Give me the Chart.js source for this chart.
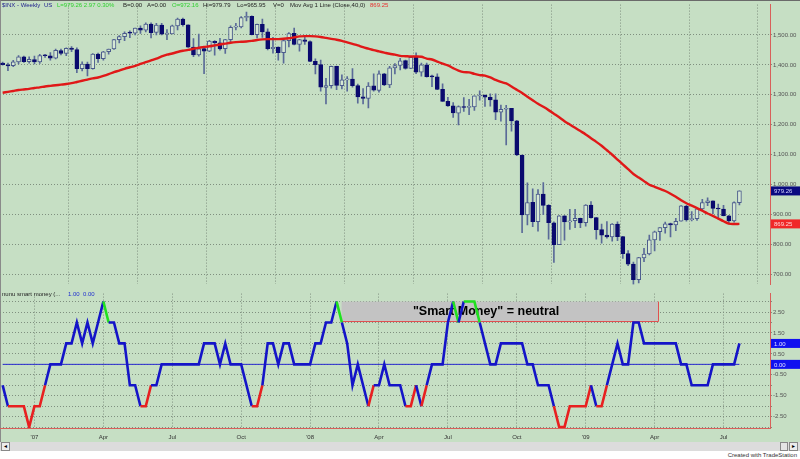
<!DOCTYPE html>
<html><head><meta charset="utf-8">
<script src="https://cdn.jsdelivr.net/npm/chart.js@4"></script>
<style>
body{margin:0;background:#fff;}
#wrap{position:relative;width:800px;height:459px;background:#fff;overflow:hidden;font-family:"Liberation Sans",Arial,sans-serif;}
#panel{position:absolute;left:0;top:0;width:800px;height:442px;background:#c6dfc4;border-top:1px solid #6a6a6a;border-left:1px solid #8a8a8a;box-sizing:border-box;}
canvas{position:absolute;left:0;}
.t{position:absolute;font-size:6px;white-space:nowrap;line-height:7px;}
#scroll{position:absolute;left:0;top:442px;width:800px;height:9px;background:#dcdcdc;}
.btn{position:absolute;top:0;width:9px;height:9px;background:#ececec;border:1px solid #888;box-sizing:border-box;font-size:6px;line-height:7px;text-align:center;color:#000;}
</style></head>
<body>
<div id="wrap">
  <div id="panel"></div>
  <canvas id="topChart" width="800" height="289" style="top:0"></canvas>
  <canvas id="botChart" width="800" height="153" style="top:289px"></canvas>
  <span class="t" style="left:2px;top:2px;color:#1c1c8c">$INX - Weekly</span>
  <span class="t" style="left:44px;top:2px;color:#1c1c8c">US</span>
  <span class="t" style="left:57px;top:2px;color:#2ed02e">L=979.26 2.97 0.30%</span>
  <span class="t" style="left:123px;top:2px;color:#222">B=0.00</span>
  <span class="t" style="left:147px;top:2px;color:#222">A=0.00</span>
  <span class="t" style="left:172px;top:2px;color:#2ed02e">O=972.16</span>
  <span class="t" style="left:203px;top:2px;color:#222">Hi=979.79</span>
  <span class="t" style="left:237px;top:2px;color:#222">Lo=965.95</span>
  <span class="t" style="left:273px;top:2px;color:#222">V=0</span>
  <span class="t" style="left:290px;top:2px;color:#222">Mov Avg 1 Line (Close,40,0)</span>
  <span class="t" style="left:370px;top:2px;color:#e83030">869.25</span>
  <span class="t" style="left:2px;top:291px;color:#222">nunu smart money (...</span>
  <span class="t" style="left:68px;top:291px;color:#2030d0">1.00</span>
  <span class="t" style="left:83px;top:291px;color:#2030d0">0.00</span>
  <div id="scroll">
    <div class="btn" style="left:1px">&#9666;</div>
    <div class="btn" style="left:780px;width:8px;background:#e4e4e4"></div>
    <div class="btn" style="left:789px">&#9656;</div>
  </div>
  <span class="t" style="right:3px;top:452px;color:#333">Created with TradeStation</span>
</div>
<script>
// ---- data (weekly bars, index 0 = week ending 24 Nov 2006) ----
const open = [1406,1400,1397,1410,1427,1411,1418,1410,1431,1430,
1422,1448,1438,1456,1451,1387,1403,1387,1436,1421,
1444,1453,1484,1494,1506,1506,1523,1516,1536,1508,
1533,1503,1503,1530,1553,1534,1459,1433,1454,1446,
1479,1474,1454,1484,1526,1527,1558,1562,1501,1535,
1510,1454,1459,1441,1481,1505,1468,1484,1478,1412,
1401,1325,1331,1395,1331,1350,1353,1331,1293,1288,
1330,1315,1370,1333,1390,1398,1414,1388,1425,1376,
1400,1361,1360,1318,1278,1263,1239,1261,1258,1260,
1296,1298,1292,1283,1242,1252,1255,1213,1099,899,
941,877,969,931,873,800,896,876,880,888,
873,932,890,850,832,826,869,827,770,735,
683,756,769,816,843,857,870,866,878,929,
883,887,919,940,946,921,919,896,879,940];
const high = [1409,1406,1415,1431,1429,1427,1429,1435,1435,1441,
1453,1453,1457,1461,1457,1410,1409,1438,1439,1445,
1453,1485,1498,1510,1514,1523,1530,1540,1540,1539,
1539,1518,1533,1556,1556,1534,1488,1503,1456,1482,
1481,1489,1485,1530,1539,1561,1576,1564,1536,1553,
1520,1492,1460,1488,1508,1523,1485,1499,1480,1420,
1416,1355,1396,1396,1367,1361,1388,1336,1321,1341,
1370,1380,1372,1395,1404,1422,1416,1426,1440,1406,
1406,1366,1370,1337,1292,1274,1263,1291,1285,1297,
1313,1300,1303,1303,1266,1265,1255,1215,1099,1006,
986,984,1007,934,876,897,897,918,918,889,
934,944,891,869,877,870,876,828,780,742,
758,788,832,845,857,875,872,888,930,931,
910,920,951,956,946,935,931,898,943,980];
const low = [1399,1381,1394,1403,1408,1406,1403,1405,1425,1416,
1420,1433,1431,1444,1374,1380,1363,1386,1408,1416,
1436,1452,1473,1481,1491,1500,1505,1510,1490,1500,
1500,1484,1503,1517,1529,1458,1427,1429,1371,1444,
1432,1449,1438,1477,1517,1523,1547,1500,1490,1492,
1450,1439,1416,1406,1460,1467,1446,1468,1411,1370,
1312,1270,1322,1317,1320,1312,1326,1272,1270,1256,
1312,1309,1331,1324,1370,1383,1386,1387,1371,1362,
1359,1327,1317,1278,1261,1225,1200,1245,1234,1248,
1282,1261,1262,1217,1212,1133,1179,1097,840,866,
860,845,900,818,741,800,815,851,857,857,
862,888,818,805,822,812,813,754,730,667,
672,743,766,779,814,838,826,847,878,878,
879,881,917,930,903,888,896,869,875,933];
const close = [1400.95,1396.71,1409.84,1427.09,1410.76,1418.30,1409.71,1430.73,1430.50,1422.18,
1448.39,1438.06,1455.54,1451.19,1387.17,1402.84,1386.95,1436.11,1420.86,1443.76,
1452.85,1484.35,1494.07,1505.62,1505.85,1522.75,1515.73,1536.34,1507.67,1532.91,
1502.56,1503.35,1530.44,1552.50,1534.10,1458.95,1433.06,1453.64,1445.94,1479.37,
1473.99,1453.55,1484.25,1525.75,1526.75,1557.59,1561.80,1500.63,1535.28,1509.65,
1453.70,1458.74,1440.70,1481.14,1504.66,1467.95,1484.46,1478.49,1411.63,1401.02,
1325.19,1330.61,1395.42,1331.29,1349.99,1353.11,1330.63,1293.37,1288.14,1329.51,
1315.22,1370.40,1332.83,1390.33,1397.84,1413.90,1388.28,1425.35,1375.93,1400.38,
1360.68,1360.03,1317.93,1278.38,1262.90,1239.49,1260.68,1257.76,1260.31,1296.32,
1298.20,1292.20,1282.83,1242.31,1251.70,1255.08,1213.27,1099.23,899.22,940.55,
876.77,968.75,930.99,873.29,800.03,896.24,876.07,879.73,887.88,872.80,
931.80,890.35,850.12,831.95,825.88,868.60,826.84,770.05,735.09,683.38,
756.55,768.54,815.94,842.50,856.56,869.60,866.23,877.52,929.23,882.88,
887.00,919.14,940.09,946.21,921.23,918.90,896.42,879.13,940.38,979.26];
const ma40 = [1307,1310,1313,1316,1318,1320,1323,1325,1328,1330,
1332,1334,1336,1339,1343,1347,1351,1355,1358,1363,
1369,1376,1381,1387,1392,1397,1403,1409,1415,1421,
1428,1434,1438,1443,1447,1450,1454,1457,1460,1462,
1465,1468,1471,1474,1476,1477,1478,1480,1483,1485,
1486,1486,1486,1487,1489,1492,1495,1496,1496,1495,
1493,1490,1487,1484,1480,1475,1470,1465,1459,1454,
1449,1445,1441,1437,1434,1430,1429,1428,1428,1427,
1421,1418,1411,1404,1398,1389,1381,1376,1375,1370,
1366,1364,1358,1350,1343,1338,1328,1317,1306,1294,
1282,1270,1260,1249,1237,1225,1212,1201,1190,1179,
1168,1155,1143,1130,1115,1100,1084,1068,1052,1036,
1024,1012,1000,993,986,979,970,960,948,938,
930,922,913,904,896,887,878,870,869,869.25];
const smartMoney = [-1,-2,-2,-2,-2,-3,-2,-2,-1,0,
0,0,1,1,2,1,2,1,2,3,
2,2,1,1,-1,-1,-2,-2,-1,-1,
0,0,0,0,0,0,0,0,1,1,
1,0,1,0,0,0,-1,-2,-2,-1,
1,1,0,1,1,0,0,0,0,1,
1,2,2,3,2,1,-1,0,-1,-2,
-1,-1,0,-1,-1,-1,-2,-2,-1,-2,
-1,0,0,0,2,3,2,3,3,3,
2,1,0,0,1,1,1,1,1,0,
0,-1,-1,-1,-2,-3,-3,-2,-2,-2,
-2,-1,-2,-2,-1,0,1,0,0,2,
2,1,1,1,1,1,1,1,0,0,
-1,-1,-1,-1,0,0,0,0,0,1];
const zeroLevel = [0, 0];              // second indicator plot (flat 0.00 line), first to last bar
const xTickBars = [6,19,32,45,58,71,84,97,110,123,136];
const xTickLabels = ["'07","Apr","Jul","Oct","'08","Apr","Jul","Oct","'09","Apr","Jul"];
const priceTicks = [700,800,900,1000,1100,1200,1300,1400,1500];
const smTicks = [-3,-2.5,-2,-1.5,-1,-0.5,0,0.5,1,1.5,2,2.5,3];
const lastClose = 979.26, lastMA = 869.25;
const annotationText = '"Smart Money" = neutral';

// ---- styles ----
const NAVY = '#0a0a6e', HOLLOW = '#d6e8d4', OUTLINE = '#4a5a8c', WICK = '#5a6a98';
const GRID = '#7f8f7f', AXISRED = '#d8605a';
const X_MIN = -0.5, X_MAX = 144.77;

const xScale = (show) => ({
  type:'linear', min:X_MIN, max:X_MAX, offset:false,
  afterBuildTicks: s => { s.ticks = xTickBars.map(v => ({value:v})); },
  afterFit: s => { s.height = show ? 14 : 0; },
  ticks: { display: show, autoSkip:false, maxRotation:0, padding:6, color:'#333',
           font:{size:6, family:'Liberation Sans, Arial'},
           callback: v => { const k = xTickBars.indexOf(v); return k >= 0 ? xTickLabels[k] : ''; } },
  grid: { color: GRID, drawTicks:false, lineWidth:1 },
  border: { display: show, color: AXISRED, width:1, dash:[1,2] }
});

function makeLabelBoxes(boxes) {
  return {
    id:'labelBoxes',
    afterDraw(chart) {
      const {ctx, chartArea} = chart;
      const y = chart.scales.y;
      ctx.save();
      ctx.font = '6px "Liberation Sans", Arial';
      ctx.textBaseline = 'middle';
      boxes.forEach(b => {
        const py = y.getPixelForValue(b.value);
        ctx.fillStyle = b.bg;
        ctx.fillRect(chartArea.right + 1, py - 4.5, 29, 9);
        ctx.fillStyle = b.fg;
        ctx.fillText(b.text, chartArea.right + 4, py + 0.5);
      });
      ctx.restore();
    }
  };
}

const smartBox = {
  id:'smartBox',
  beforeDatasetsDraw(chart) {
    const {ctx} = chart;
    const x = chart.scales.x, y = chart.scales.y;
    const x1 = x.getPixelForValue(63.95), x2 = x.getPixelForValue(123.65);
    const y1 = y.getPixelForValue(3.0), y2 = y.getPixelForValue(2.08);
    ctx.save();
    ctx.fillStyle = '#c3c3c3';
    ctx.fillRect(x1, y1, x2 - x1, y2 - y1);
    ctx.strokeStyle = '#e05050'; ctx.lineWidth = 1;
    ctx.beginPath();
    ctx.moveTo(x1, Math.round(y2) + 0.5); ctx.lineTo(Math.round(x2) + 0.5, Math.round(y2) + 0.5);
    ctx.lineTo(Math.round(x2) + 0.5, y1);
    ctx.stroke();
    ctx.fillStyle = '#000';
    ctx.font = 'bold 12.5px "Liberation Sans", Arial';
    ctx.textBaseline = 'middle';
    ctx.fillText(annotationText, x.getPixelForValue(77.4), (y1 + y2) / 2);
    ctx.restore();
  }
};

Chart.defaults.animation = false;
Chart.defaults.font.family = '"Liberation Sans", Arial, sans-serif';

// ---- top price panel ----
new Chart(document.getElementById('topChart'), {
  type:'bar',
  data:{ datasets:[
    { type:'line', label:'MA40', data: ma40.map((v,i)=>({x:i,y:v})), borderColor:'#e01818', borderWidth:2.4,
      pointRadius:0, tension:0.3, order:0 },
    { type:'bar', label:'body', data: open.map((o,i)=>({x:i,y:[o,close[i]]})), grouped:false,
      barThickness:4, minBarLength:1, borderWidth:1, borderSkipped:false,
      backgroundColor: c => close[c.dataIndex] >= open[c.dataIndex] ? HOLLOW : NAVY,
      borderColor: c => close[c.dataIndex] >= open[c.dataIndex] ? OUTLINE : NAVY, order:1 },
    { type:'bar', label:'wick', data: low.map((l,i)=>({x:i,y:[l,high[i]]})), grouped:false,
      barThickness:1, backgroundColor: WICK, borderWidth:0, order:2 }
  ]},
  options:{
    responsive:false, animation:false,
    layout:{ padding:{ top:2, bottom:1, left:0, right:0 } },
    plugins:{ legend:{display:false}, tooltip:{enabled:false} },
    scales:{
      x: xScale(false),
      y: { position:'right', min:667.3, max:1601.2,
           afterBuildTicks: s => { s.ticks = priceTicks.map(v=>({value:v})); },
           afterFit: s => { s.width = 30; },
           ticks:{ color:'#555', padding:1, autoSkip:false, font:{size:6},
                   callback: v => v.toLocaleString('en-US',{minimumFractionDigits:2, maximumFractionDigits:2}) },
           grid:{ color:GRID, drawTicks:true, tickLength:2, tickColor:GRID },
           border:{ display:true, color:AXISRED, width:1, dash:[1,2] } }
    }
  },
  plugins:[makeLabelBoxes([
    {value:lastClose, text:lastClose.toFixed(2), bg:'#0a0a80', fg:'#d8d8ff'},
    {value:lastMA, text:lastMA.toFixed(2), bg:'#f02828', fg:'#ffd8d8'} ])]
});

// ---- bottom indicator panel ----
new Chart(document.getElementById('botChart'), {
  type:'line',
  data:{ datasets:[
    { label:'smart money', data: smartMoney.map((v,i)=>({x:i,y:v})), borderWidth:2.6, pointRadius:0,
      borderColor:'#1414c8',
      segment:{ borderColor: c => c.p0.parsed.y <= -2 ? '#e82020' : (c.p0.parsed.y >= 3 ? '#20e020' : '#1414c8') },
      order:0 },
    { label:'zero', data: zeroLevel.map((v,k)=>({x: k === 0 ? 0 : smartMoney.length - 1, y:v})),
      borderColor:'#2a2ad0', borderWidth:1, pointRadius:0, order:1 }
  ]},
  options:{
    responsive:false, animation:false,
    layout:{ padding:{ top:0, bottom:0, left:0, right:0 } },
    plugins:{ legend:{display:false}, tooltip:{enabled:false} },
    scales:{
      x: xScale(true),
      y: { position:'right', min:-3.04, max:3.38,
           afterBuildTicks: s => { s.ticks = smTicks.map(v=>({value:v})); },
           afterFit: s => { s.width = 30; },
           ticks:{ color:'#555', padding:1, autoSkip:false, font:{size:6},
                   callback: v => (Math.round(Math.abs(v) * 2) % 2 === 1) ? v.toFixed(2) : '' },
           grid:{ color:GRID, drawTicks:true, tickLength:2, tickColor:GRID },
           border:{ display:true, color:AXISRED, width:1, dash:[1,2] } }
    }
  },
  plugins:[smartBox, makeLabelBoxes([
    {value:1, text:'1.00', bg:'#1010f0', fg:'#e0e0ff'},
    {value:0, text:'0.00', bg:'#1010f0', fg:'#e0e0ff'} ])]
});
</script>
</body></html>
